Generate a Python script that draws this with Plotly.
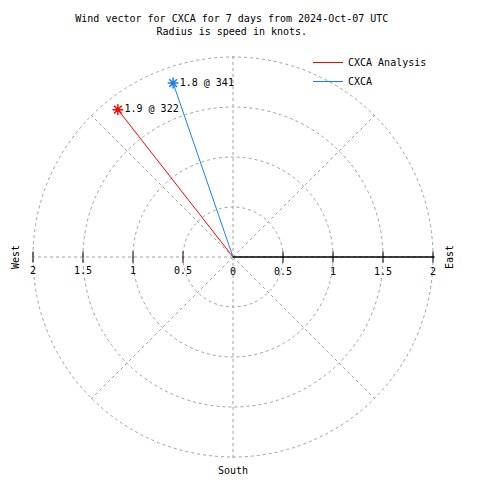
import plotly.graph_objects as go

# Data
names = ["CXCA Analysis", "CXCA"]
speeds = [1.87, 1.84]          # knots
directions = [322, 341]        # degrees (compass)
colors = ["#ff0000", "#1a80e8"]
radial_ticks = [0, 0.5, 1, 1.5, 2]
left_ticks = [2, 1.5, 1, 0.5]

FONT = "DejaVu Sans Mono"
FS = 10
RMAX = 2.015
CX, CY, RPX = 233, 257, 200 * RMAX / 2

fig = go.Figure()

for name, s, d, c in zip(names, speeds, directions, colors):
    fig.add_trace(go.Scatterpolar(
        r=[0, s], theta=[d, d], mode="lines", name=name,
        line=dict(color=c, width=1), showlegend=True,
    ))
    fig.add_trace(go.Scatterpolar(
        r=[s], theta=[d], mode="markers+text",
        marker=dict(symbol="asterisk-open", size=9, color=c, line=dict(color=c, width=1.5)),
        text=[f"{s:.1f} @ {d}"], textposition="middle right",
        textfont=dict(family=FONT, size=FS, color="black"),
        showlegend=False, hoverinfo="skip",
    ))

# crossing tick marks on both halves of the x axis
fig.add_trace(go.Scatterpolar(
    r=radial_ticks[1:] + left_ticks, theta=[90] * 4 + [270] * len(left_ticks),
    mode="markers",
    marker=dict(symbol="line-ns-open", size=8, color="black", line=dict(color="black", width=1)),
    showlegend=False, hoverinfo="skip",
))
# left-side tick labels (west half of the x axis)
fig.add_trace(go.Scatterpolar(
    r=left_ticks, theta=[270] * len(left_ticks), mode="markers+text",
    marker=dict(size=14, color="rgba(0,0,0,0)"),
    text=[f"{v:g}" for v in left_ticks], textposition="bottom center",
    textfont=dict(family=FONT, size=FS, color="black"),
    showlegend=False, hoverinfo="skip",
))

fig.update_layout(
    width=480, height=480,
    margin=dict(l=0, r=0, t=0, b=0),
    paper_bgcolor="white",
    font=dict(family=FONT, size=FS, color="black"),
    title=dict(
        text="Wind vector for CXCA for 7 days from 2024-Oct-07 UTC<br>Radius is speed in knots.",
        x=0.483, xanchor="center", y=0.955, yanchor="top",
        font=dict(family=FONT, size=FS, color="black"),
    ),
    legend=dict(
        x=0.9, xanchor="right", y=0.9, yanchor="top",
        bgcolor="rgba(0,0,0,0)", font=dict(family=FONT, size=FS),
        tracegroupgap=0, itemwidth=30,
    ),
    polar=dict(
        domain=dict(x=[(CX - RPX) / 480, (CX + RPX) / 480],
                    y=[1 - (CY + RPX) / 480, 1 - (CY - RPX) / 480]),
        bgcolor="white",
        radialaxis=dict(
            range=[0, RMAX], tickvals=radial_ticks,
            ticktext=[f"{v:g}" for v in radial_ticks],
            showline=True, linecolor="black", linewidth=1.5,
            ticks="outside", ticklen=5, tickcolor="rgba(0,0,0,0)",
            angle=0, tickangle=0, side="clockwise",
            showgrid=True, gridcolor="#a0a0a0", griddash="dot", gridwidth=1,
            tickfont=dict(family=FONT, size=FS, color="black"),
        ),
        angularaxis=dict(
            rotation=90, direction="clockwise", dtick=45,
            showticklabels=False, ticks="", showline=False,
            showgrid=True, gridcolor="#a0a0a0", griddash="dot", gridwidth=1,
        ),
    ),
    annotations=[
        dict(text="East", x=449 / 480, y=1 - 257 / 480, xref="paper", yref="paper",
             xanchor="center", yanchor="middle",
             textangle=-90, showarrow=False, font=dict(family=FONT, size=FS)),
        dict(text="West", x=15 / 480, y=1 - 257 / 480, xref="paper", yref="paper",
             xanchor="center", yanchor="middle",
             textangle=-90, showarrow=False, font=dict(family=FONT, size=FS)),
        dict(text="South", x=233 / 480, y=1 - 470 / 480, xref="paper", yref="paper",
             xanchor="center", yanchor="middle",
             showarrow=False, font=dict(family=FONT, size=FS)),
    ],
)

fig.write_html("out.html", config={"displayModeBar": False},
               post_script="document.body.style.margin='0';")
